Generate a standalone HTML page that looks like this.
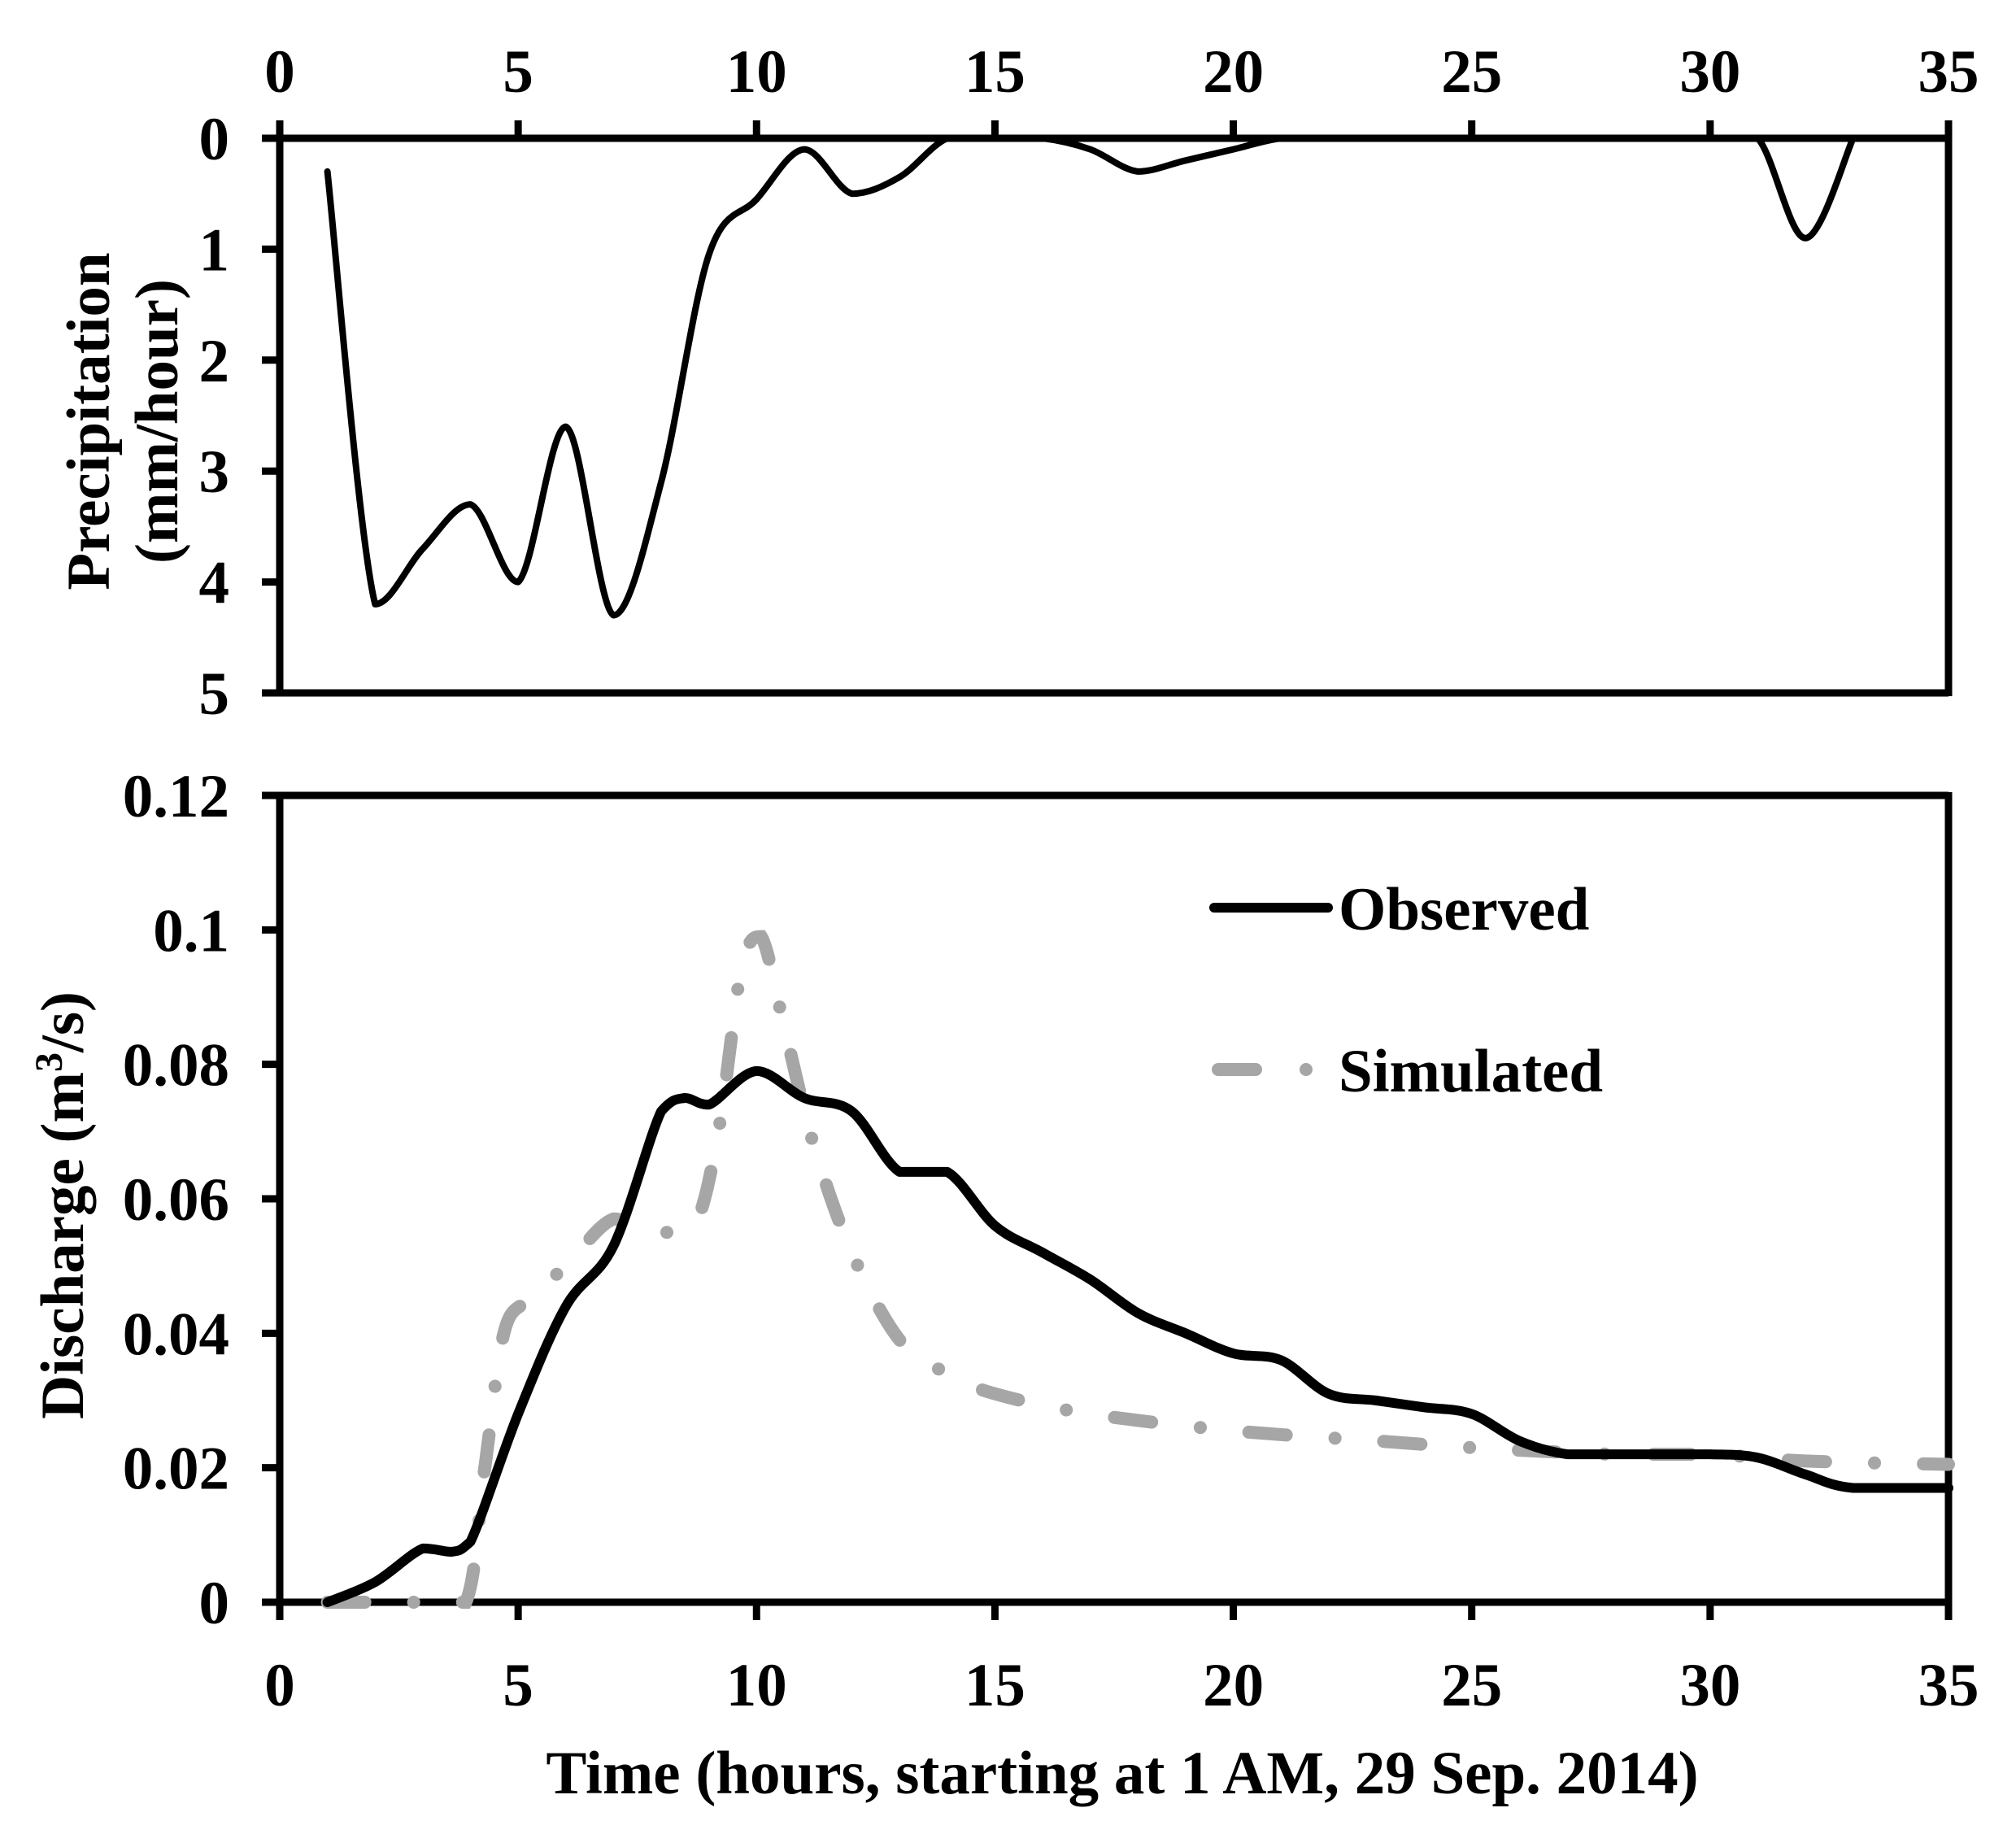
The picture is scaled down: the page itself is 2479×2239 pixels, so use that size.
<!DOCTYPE html>
<html><head><meta charset="utf-8"><style>
html,body{margin:0;padding:0;background:#fff}
svg{display:block}
text{font-family:"Liberation Serif",serif;font-weight:bold;fill:#000}
</style></head><body>
<svg id="s" width="2479" height="2239" viewBox="0 0 2479 2239" xmlns="http://www.w3.org/2000/svg">
<rect width="2479" height="2239" fill="#fff"/>
<g id="g"></g>
</svg>
<script>
const NS="http://www.w3.org/2000/svg";
const g=document.getElementById('g');
function el(t,a,txt){const e=document.createElementNS(NS,t);for(const k in a)e.setAttribute(k,a[k]);if(txt!==undefined)e.textContent=txt;g.appendChild(e);return e;}
const L=344,R=2396;
const X=h=>L+h*(R-L)/35;
const PT=170,PB=852;
const YP=p=>PT+p*(PB-PT)/5;
const DT=978,DB=1970;
const YD=q=>DB-q*(DB-DT)/0.12;
function cl(v,a,b){const lo=Math.min(a,b),hi=Math.max(a,b);return Math.max(lo,Math.min(hi,v));}
function cr(pts){let d="M"+pts[0][0].toFixed(1)+","+pts[0][1].toFixed(1);
 for(let i=0;i<pts.length-1;i++){const p0=pts[i-1]||pts[i],p1=pts[i],p2=pts[i+1],p3=pts[i+2]||p2;
  let c1=[p1[0]+(p2[0]-p0[0])/6,p1[1]+(p2[1]-p0[1])/6],c2=[p2[0]-(p3[0]-p1[0])/6,p2[1]-(p3[1]-p1[1])/6];
  c1[1]=cl(c1[1],p1[1],p2[1]);c2[1]=cl(c2[1],p1[1],p2[1]);
  d+=" C"+c1.map(v=>v.toFixed(1))+" "+c2.map(v=>v.toFixed(1))+" "+p2.map(v=>v.toFixed(1));}
 return d;}
el('line',{x1:L,y1:PT,x2:R,y2:PT,stroke:'#000','stroke-width':9});
el('line',{x1:L,y1:PB,x2:R,y2:PB,stroke:'#000','stroke-width':9});
el('line',{x1:L,y1:PT-4,x2:L,y2:PB+4,stroke:'#000','stroke-width':9});
el('line',{x1:R,y1:PT-4,x2:R,y2:PB+4,stroke:'#000','stroke-width':9});
for(let h=0;h<=35;h+=5){el('line',{x1:X(h),y1:PT,x2:X(h),y2:PT-22,stroke:'#000','stroke-width':9});
 el('text',{x:X(h),y:113,'font-size':75,'text-anchor':'middle'},h);}
for(let p=0;p<=5;p++){el('line',{x1:L,y1:YP(p),x2:L-22,y2:YP(p),stroke:'#000','stroke-width':9});
 el('text',{x:282,y:YP(p)+26,'font-size':75,'text-anchor':'end'},p);}
el('line',{x1:L,y1:DT,x2:R,y2:DT,stroke:'#000','stroke-width':9});
el('line',{x1:L,y1:DB,x2:R,y2:DB,stroke:'#000','stroke-width':9});
el('line',{x1:L,y1:DT-4,x2:L,y2:DB+4,stroke:'#000','stroke-width':9});
el('line',{x1:R,y1:DT-4,x2:R,y2:DB+4,stroke:'#000','stroke-width':9});
for(let h=0;h<=35;h+=5){el('line',{x1:X(h),y1:DB,x2:X(h),y2:DB+22,stroke:'#000','stroke-width':9});
 el('text',{x:X(h),y:2097,'font-size':75,'text-anchor':'middle'},h);}
const dl=["0","0.02","0.04","0.06","0.08","0.1","0.12"];
for(let i=0;i<7;i++){const y=YD(i*0.02);el('line',{x1:L,y1:y,x2:L-22,y2:y,stroke:'#000','stroke-width':9});
 el('text',{x:282,y:y+26,'font-size':75,'text-anchor':'end'},dl[i]);}
const pr=[[1,0.3],[2,4.2],[3,3.7],[4,3.3],[5,4.0],[6,2.6],[7,4.3],[8,3.1],[9,1.05],[10,0.55],[11,0.1],[12,0.5],[13,0.35],[14,0],[15,0],[16,0],[17,0.1],[18,0.3],[19,0.2],[20,0.1],[21,0],[22,0],[25,0],[28,0],[30,0],[31,0],[32,0.9],[33,0]];
el('path',{d:cr(pr.map(p=>[X(p[0]),YP(p[1])])),fill:'none',stroke:'#000','stroke-width':8,'stroke-linejoin':'round','stroke-linecap':'round'});
const sm=[[1,0],[2,0],[3,0],[3.9,0],[4.3,0.02],[4.7,0.04],[5.2,0.045],[6,0.05],[7,0.057],[8,0.055],[8.7,0.056],[9.2,0.07],[9.7,0.095],[10.1,0.099],[10.6,0.085],[11.2,0.068],[12,0.052],[13,0.039],[14,0.034],[15,0.031],[17,0.028],[20,0.0255],[23,0.024],[25,0.023],[28,0.022],[30,0.022],[32,0.021],[35,0.0205]];
el('path',{d:cr(sm.map(p=>[X(p[0]),YD(p[1])])),fill:'none',stroke:'#a6a6a6','stroke-width':16,'stroke-linecap':'round','stroke-dasharray':'46 60 0.1 60'});
const ob=[[1,0],[2,0.003],[3,0.008],[3.6,0.0075],[4,0.009],[5,0.028],[6,0.044],[7,0.053],[8,0.073],[8.5,0.075],[9,0.074],[10,0.079],[11,0.075],[12,0.073],[13,0.064],[14,0.064],[15,0.056],[16,0.052],[17,0.048],[18,0.043],[19,0.040],[20,0.037],[21,0.036],[22,0.031],[23,0.030],[24,0.029],[25,0.028],[26,0.024],[27,0.022],[28,0.022],[30,0.022],[31,0.0215],[32,0.019],[33,0.017],[35,0.017]];
el('path',{d:cr(ob.map(p=>[X(p[0]),YD(p[1])])),fill:'none',stroke:'#000','stroke-width':12,'stroke-linejoin':'round','stroke-linecap':'round'});
el('line',{x1:1493,y1:1116,x2:1633,y2:1116,stroke:'#000','stroke-width':12,'stroke-linecap':'round'});
el('text',{x:1646,y:1143,'font-size':75},'Observed');
el('line',{x1:1498,y1:1315,x2:1544,y2:1315,stroke:'#a6a6a6','stroke-width':16,'stroke-linecap':'round'});
el('circle',{cx:1606,cy:1315,r:8,fill:'#a6a6a6'});
el('text',{x:1646,y:1342,'font-size':75},'Simulated');
el('text',{x:0,y:0,'font-size':75,'text-anchor':'middle',transform:'translate(134,518) rotate(-90)'},'Precipitation');
el('text',{x:0,y:0,'font-size':75,'text-anchor':'middle',transform:'translate(218,518) rotate(-90)'},'(mm/hour)');
const t=el('text',{x:0,y:0,'font-size':75,'text-anchor':'middle',transform:'translate(102,1482) rotate(-90)'},'');
t.innerHTML='Discharge (m<tspan font-size="48" dy="-26">3</tspan><tspan dy="26">/s)</tspan>';
el('text',{x:1380,y:2205,'font-size':75,'text-anchor':'middle'},'Time (hours, starting at 1 AM, 29 Sep. 2014)');
</script>
</body></html>
